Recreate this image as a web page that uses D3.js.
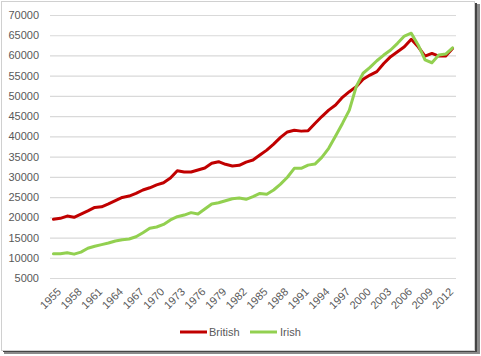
<!DOCTYPE html>
<html><head><meta charset="utf-8">
<script src="https://cdn.jsdelivr.net/npm/d3@7"></script>
<style>body{margin:0;background:#fff}svg{display:block}text{font-family:"Liberation Sans",Arial,sans-serif;fill:#595959}</style>
</head><body>
<svg id="c" width="481" height="356"></svg>
<script>
const years = d3.range(1955, 2014);
const british = [19500,19750,20300,20000,20800,21600,22450,22600,23300,24100,24900,25250,25900,26750,27300,28000,28550,29700,31500,31200,31200,31700,32200,33350,33750,33100,32700,32850,33650,34150,35400,36600,38100,39750,41100,41500,41300,41400,43200,44900,46500,47750,49650,51050,52300,54100,55150,56000,58000,59700,60900,62150,64000,62150,59850,60500,59850,59850,61750];
const irish = [11000,11000,11250,10900,11400,12350,12850,13250,13650,14150,14450,14650,15200,16200,17300,17600,18250,19350,20150,20550,21150,20800,22050,23300,23600,24100,24600,24750,24450,25100,25900,25700,26750,28200,29900,32100,32100,32900,33150,34800,37050,40100,43200,46500,52300,55600,57050,58700,60100,61350,63000,64800,65500,62600,58900,58200,60100,60350,61900];
const yTicks = d3.range(5000, 70001, 5000);
const xTickLabels = d3.range(1955, 2013, 3);
const seriesNames = ["British", "Irish"];
const colors = ["#C00000", "#92D050"];

const svg = d3.select("#c");
// shadow + frame
svg.append("rect").attr("x",4).attr("y",4).attr("width",476).attr("height",350).attr("fill","#8a8a8a");
svg.append("rect").attr("x",3).attr("y",3).attr("width",474).attr("height",349).attr("fill","#444");
svg.append("rect").attr("x",1.5).attr("y",1.5).attr("width",473).attr("height",349).attr("fill","#fff").attr("stroke","#d0d0d0");

const L = 50, R = 456, T = 15, B = 278;
const x = d3.scaleBand().domain(years).range([L, R]);
const y = d3.scaleLinear().domain([5000, 70000]).range([B, T]);
const cx = d => x(d) + x.bandwidth()/2;

const yAxis = svg.append("g").attr("transform",`translate(${L},0)`)
  .call(d3.axisLeft(y).tickValues(yTicks).tickSize(-(R-L)).tickPadding(11).tickFormat(d3.format("d")));
yAxis.select(".domain").remove();
yAxis.selectAll("line").attr("stroke","#d9d9d9").attr("stroke-width",1.2);
yAxis.selectAll("text").style("font-size","11px").style("fill","#595959");

const xAxis = svg.append("g").attr("transform",`translate(0,${B})`)
  .call(d3.axisBottom(x).tickValues(xTickLabels).tickSize(0).tickPadding(0));
xAxis.select(".domain").remove();
xAxis.selectAll("text").style("font-size","11px").style("fill","#595959")
  .attr("text-anchor","end").attr("dy","0.7em")
  .attr("transform","translate(3,9) rotate(-45)");

const line = d3.line().x((d,i)=>cx(years[i])).y(d=>y(d));
[british, irish].forEach((s,k)=>{
  svg.append("path").datum(s).attr("d",line).attr("fill","none")
    .attr("stroke",colors[k]).attr("stroke-width",3).attr("stroke-linejoin","round").attr("stroke-linecap","round");
});

// legend
const leg = [{x0:180,tx:209},{x0:250,tx:280}];
seriesNames.forEach((n,k)=>{
  svg.append("line").attr("x1",leg[k].x0).attr("x2",leg[k].x0+27).attr("y1",332).attr("y2",332)
    .attr("stroke",colors[k]).attr("stroke-width",3);
  svg.append("text").attr("x",leg[k].tx).attr("y",336).style("font-size","11px").text(n);
});
</script>
</body></html>
